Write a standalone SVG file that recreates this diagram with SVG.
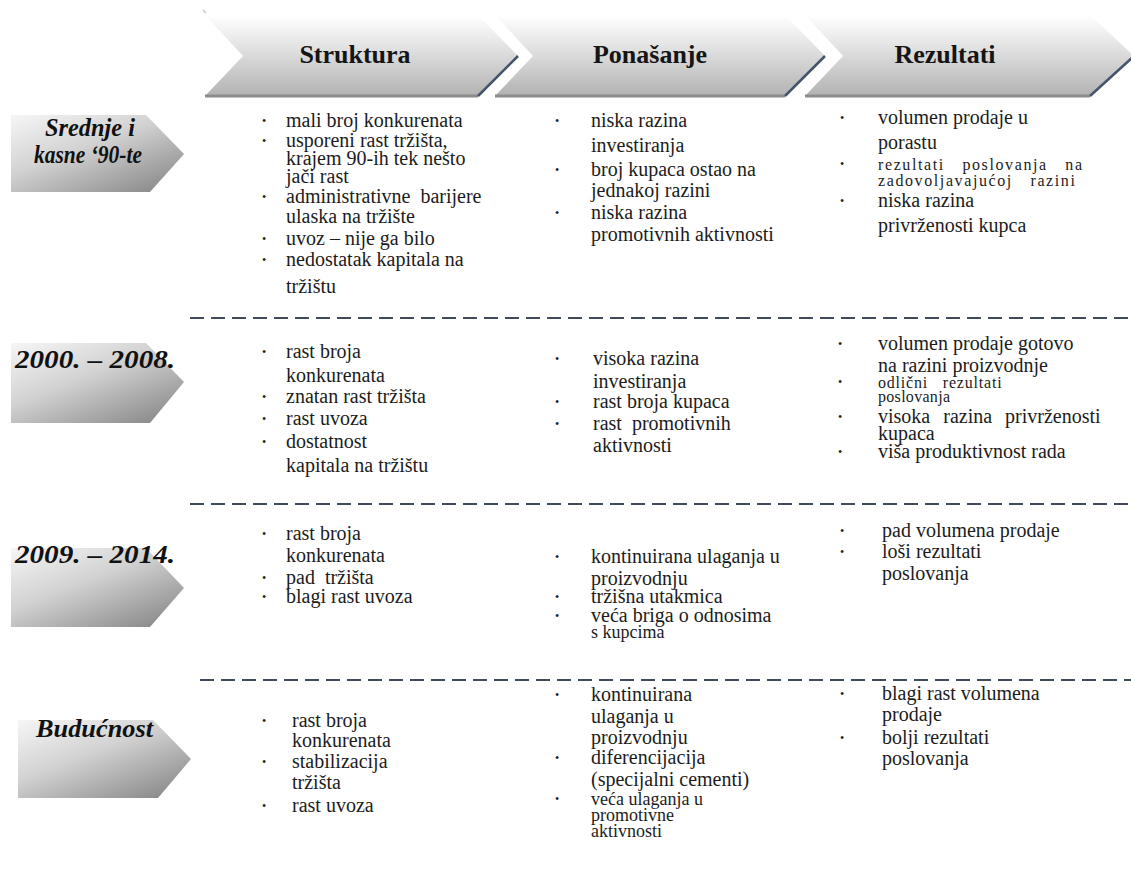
<svg xmlns="http://www.w3.org/2000/svg" width="1131" height="893" viewBox="0 0 1131 893">
<style>
.hdr{font-family:"Liberation Serif","Times New Roman",serif;font-weight:bold;font-size:26px;fill:#151515;text-anchor:middle}
.lbl{font-family:"Liberation Serif","Times New Roman",serif;font-weight:bold;font-style:italic;font-size:26px;fill:#111}
.t{font-family:"Liberation Serif","Times New Roman",serif;font-size:20px;fill:#1c1c1c}
.tt{font-family:"Liberation Serif","Times New Roman",serif;font-size:18px;fill:#1c1c1c}
.s{font-family:"Liberation Serif","Times New Roman",serif;font-size:16px;fill:#1c1c1c;letter-spacing:1.6px;word-spacing:12px}
.s2{font-family:"Liberation Serif","Times New Roman",serif;font-size:16px;fill:#1c1c1c;letter-spacing:0.8px;word-spacing:10px}
.b{font-family:"Liberation Serif","Times New Roman",serif;font-size:12px;fill:#222}
.chev{fill:url(#hg)}
.lab{fill:url(#lg)}
.base{stroke:#8c8c8c;stroke-width:3}
.edge{stroke:#44546a;stroke-width:2.5}
.sep{stroke:#3f4b5b;stroke-width:1.8;stroke-dasharray:14 7;fill:none}
</style>
<defs>
<linearGradient id="hg" x1="0" y1="0" x2="0" y2="1">
<stop offset="0" stop-color="#ffffff"/>
<stop offset="0.35" stop-color="#e6e6e6"/>
<stop offset="1" stop-color="#b2b2b2"/>
</linearGradient>
<linearGradient id="lg" x1="0" y1="0" x2="0.85" y2="1">
<stop offset="0" stop-color="#f6f6f6"/>
<stop offset="0.45" stop-color="#d2d2d2"/>
<stop offset="1" stop-color="#8a8a8a"/>
</linearGradient>
</defs>
<rect width="1131" height="893" fill="#ffffff"/>

<g id="h-struktura">
<line x1="203" y1="10" x2="243" y2="54" stroke="#c8c8c8" stroke-width="1.5" stroke-dasharray="4 3"/>
<polygon class="chev" points="205,15 478,15 518,56 478,96 205,96 243,56"/>
<line class="base" x1="205" y1="96" x2="478" y2="96"/>
<line class="edge" x1="518" y1="56" x2="478" y2="96"/>
<text class="hdr" x="355" y="63">Struktura</text>
</g>
<g id="h-ponasanje">
<polygon class="chev" points="495,15 785,15 825,56 785,96 495,96 533,56"/>
<line class="base" x1="495" y1="96" x2="785" y2="96"/>
<line class="edge" x1="825" y1="56" x2="785" y2="96"/>
<text class="hdr" x="650" y="63">Ponašanje</text>
</g>
<g id="h-rezultati">
<polygon class="chev" points="805,15 1090,15 1134,56 1090,96 805,96 843,56"/>
<line class="base" x1="805" y1="96" x2="1090" y2="96"/>
<line class="edge" x1="1134" y1="56" x2="1090" y2="96"/>
<text class="hdr" x="945" y="63">Rezultati</text>
</g>

<g id="r-90te">
<polygon class="lab" points="11,115 146,115 184,154 150,192 11,192"/>
<text class="lbl" x="45" y="136" textLength="90" lengthAdjust="spacingAndGlyphs">Srednje i</text>
<text class="lbl" x="34" y="163" textLength="108" lengthAdjust="spacingAndGlyphs">kasne ‘90-te</text>
</g>
<g id="r-2000">
<polygon class="lab" points="11,343 146,343 184,382 150,423 11,423"/>
<text class="lbl" x="15" y="368" textLength="160" lengthAdjust="spacingAndGlyphs">2000. – 2008.</text>
</g>
<g id="r-2009">
<polygon class="lab" points="11,548 146,548 184,588 150,627 11,627"/>
<text class="lbl" x="15" y="563" textLength="160" lengthAdjust="spacingAndGlyphs">2009. – 2014.</text>
</g>
<g id="r-buducnost">
<polygon class="lab" points="18,720 153,720 191,759 158,798 18,798"/>
<text class="lbl" x="36" y="737" textLength="117" lengthAdjust="spacingAndGlyphs">Budućnost</text>
</g>

<g id="separators">
<line class="sep" x1="190" y1="318" x2="1131" y2="318"/>
<line class="sep" x1="190" y1="504" x2="1131" y2="504"/>
<line class="sep" x1="200" y1="680" x2="1131" y2="680"/>
</g>

<g id="c-r1-struktura">
<text class="b" x="262" y="125">•</text><text class="t" x="286" y="127">mali broj konkurenata</text>
<text class="b" x="262" y="145">•</text><text class="t" x="286" y="147">usporeni rast tržišta,</text>
<text class="t" x="286" y="165">krajem 90-ih tek nešto</text>
<text class="t" x="286" y="183">jači rast</text>
<text class="b" x="262" y="201">•</text><text class="t" x="286" y="203" xml:space="preserve">administrativne  barijere</text>
<text class="t" x="286" y="223">ulaska na tržište</text>
<text class="b" x="262" y="243">•</text><text class="t" x="286" y="245">uvoz – nije ga bilo</text>
<text class="b" x="262" y="264">•</text><text class="t" x="286" y="266">nedostatak kapitala na</text>
<text class="t" x="286" y="293">tržištu</text>
</g>
<g id="c-r1-ponasanje">
<text class="b" x="555" y="125">•</text><text class="t" x="591" y="127">niska razina</text>
<text class="t" x="591" y="152">investiranja</text>
<text class="b" x="555" y="174">•</text><text class="t" x="591" y="176">broj kupaca ostao na</text>
<text class="t" x="591" y="197">jednakoj razini</text>
<text class="b" x="555" y="217">•</text><text class="t" x="591" y="219">niska razina</text>
<text class="t" x="591" y="241">promotivnih aktivnosti</text>
</g>
<g id="c-r1-rezultati">
<text class="b" x="840" y="122">•</text><text class="t" x="878" y="124">volumen prodaje u</text>
<text class="t" x="878" y="149">porastu</text>
<text class="b" x="840" y="168">•</text><text class="s" x="878" y="170">rezultati poslovanja na</text>
<text class="s" x="878" y="186">zadovoljavajućoj razini</text>
<text class="b" x="840" y="205">•</text><text class="t" x="878" y="207">niska razina</text>
<text class="t" x="878" y="232">privrženosti kupca</text>
</g>

<g id="c-r2-struktura">
<text class="b" x="262" y="356">•</text><text class="t" x="286" y="358">rast broja</text>
<text class="t" x="286" y="382">konkurenata</text>
<text class="b" x="262" y="401">•</text><text class="t" x="286" y="403">znatan rast tržišta</text>
<text class="b" x="262" y="423">•</text><text class="t" x="286" y="425">rast uvoza</text>
<text class="b" x="262" y="446">•</text><text class="t" x="286" y="448">dostatnost</text>
<text class="t" x="286" y="472">kapitala na tržištu</text>
</g>
<g id="c-r2-ponasanje">
<text class="b" x="555" y="363">•</text><text class="t" x="593" y="365">visoka razina</text>
<text class="t" x="593" y="388">investiranja</text>
<text class="b" x="555" y="406">•</text><text class="t" x="593" y="408">rast broja kupaca</text>
<text class="b" x="555" y="428">•</text><text class="t" x="593" y="430" xml:space="preserve">rast  promotivnih</text>
<text class="t" x="593" y="452">aktivnosti</text>
</g>
<g id="c-r2-rezultati">
<text class="b" x="838" y="348">•</text><text class="t" x="878" y="350">volumen prodaje gotovo</text>
<text class="t" x="878" y="372">na razini proizvodnje</text>
<text class="b" x="838" y="386">•</text><text class="s2" x="878" y="388">odlični rezultati</text>
<text class="s2" x="878" y="402" style="letter-spacing:0.3px">poslovanja</text>
<text class="b" x="838" y="421">•</text><text class="t" x="878" y="423" style="word-spacing:8px">visoka razina privrženosti</text>
<text class="t" x="878" y="440">kupaca</text>
<text class="b" x="838" y="456">•</text><text class="t" x="878" y="458">viša produktivnost rada</text>
</g>

<g id="c-r3-struktura">
<text class="b" x="262" y="538">•</text><text class="t" x="286" y="540">rast broja</text>
<text class="t" x="286" y="562">konkurenata</text>
<text class="b" x="262" y="582">•</text><text class="t" x="286" y="584" xml:space="preserve">pad  tržišta</text>
<text class="b" x="262" y="601">•</text><text class="t" x="286" y="603">blagi rast uvoza</text>
</g>
<g id="c-r3-ponasanje">
<text class="b" x="555" y="561">•</text><text class="t" x="591" y="563">kontinuirana ulaganja u</text>
<text class="t" x="591" y="585">proizvodnju</text>
<text class="b" x="555" y="601">•</text><text class="t" x="591" y="603">tržišna utakmica</text>
<text class="b" x="555" y="620">•</text><text class="t" x="591" y="622">veća briga o odnosima</text>
<text class="tt" x="591" y="638">s kupcima</text>
</g>
<g id="c-r3-rezultati">
<text class="b" x="840" y="535">•</text><text class="t" x="882" y="537">pad volumena prodaje</text>
<text class="b" x="840" y="556">•</text><text class="t" x="882" y="558">loši rezultati</text>
<text class="t" x="882" y="580">poslovanja</text>
</g>

<g id="c-r4-struktura">
<text class="b" x="262" y="725">•</text><text class="t" x="292" y="727">rast broja</text>
<text class="t" x="292" y="747">konkurenata</text>
<text class="b" x="262" y="766">•</text><text class="t" x="292" y="768">stabilizacija</text>
<text class="t" x="292" y="789">tržišta</text>
<text class="b" x="262" y="810">•</text><text class="t" x="292" y="812">rast uvoza</text>
</g>
<g id="c-r4-ponasanje">
<text class="b" x="555" y="699">•</text><text class="t" x="591" y="701">kontinuirana</text>
<text class="t" x="591" y="723">ulaganja u</text>
<text class="t" x="591" y="744">proizvodnju</text>
<text class="b" x="555" y="762">•</text><text class="t" x="591" y="764">diferencijacija</text>
<text class="t" x="591" y="786">(specijalni cementi)</text>
<text class="b" x="555" y="803">•</text><text class="tt" x="591" y="805">veća ulaganja u</text>
<text class="tt" x="591" y="821">promotivne</text>
<text class="tt" x="591" y="837">aktivnosti</text>
</g>
<g id="c-r4-rezultati">
<text class="b" x="840" y="698">•</text><text class="t" x="882" y="700">blagi rast volumena</text>
<text class="t" x="882" y="721">prodaje</text>
<text class="b" x="840" y="742">•</text><text class="t" x="882" y="744">bolji rezultati</text>
<text class="t" x="882" y="765">poslovanja</text>
</g>
</svg>
